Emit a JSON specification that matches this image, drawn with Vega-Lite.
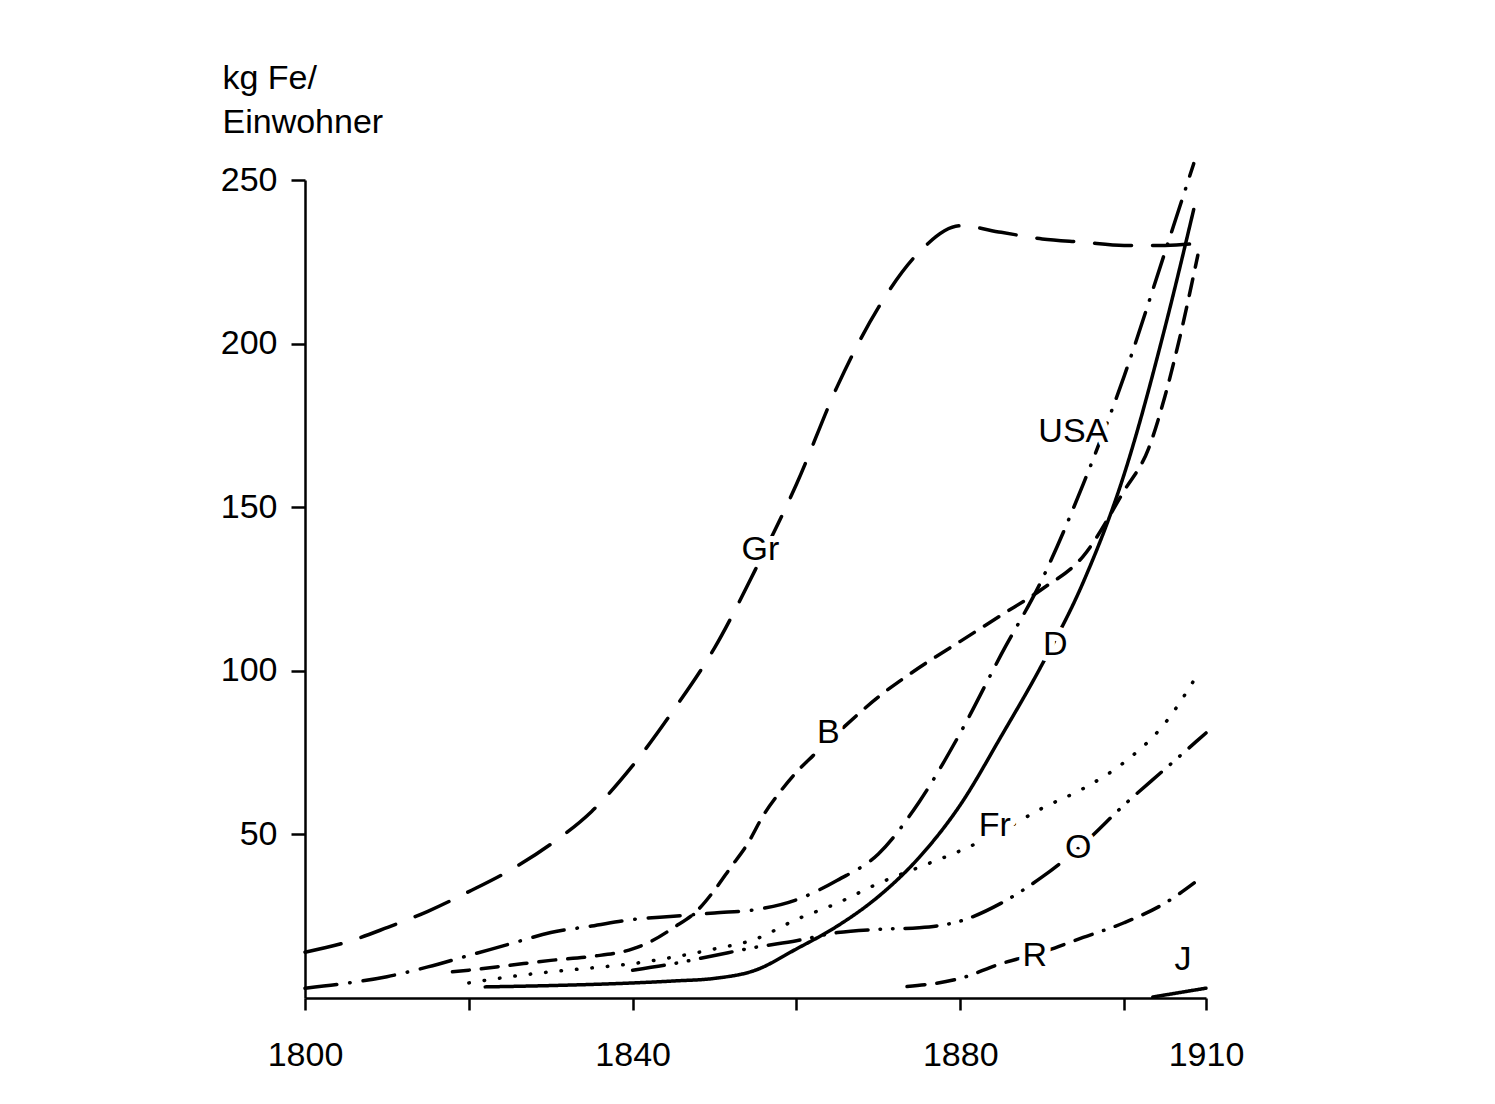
{
  "$schema": "https://vega.github.io/schema/vega-lite/v6.json",
  "width": 901,
  "height": 818,
  "autosize": "none",
  "padding": {"left": 305, "top": 180, "right": 289, "bottom": 106},
  "background": "white",
  "config": {
    "view": {"stroke": null},
    "font": "Liberation Sans",
    "axis": {
      "grid": false,
      "domainColor": "black",
      "domainWidth": 2.5,
      "tickColor": "black",
      "tickWidth": 2.5,
      "labelColor": "black",
      "labelFont": "Liberation Sans",
      "labelFontSize": 34,
      "titleFont": "Liberation Sans",
      "titleColor": "black"
    }
  },
  "datasets": {
    "lines": [
      {"series": "Gr", "year": 1800, "value": 14}, {"series": "Gr", "year": 1805, "value": 17}, {"series": "Gr", "year": 1810, "value": 21.5}, {"series": "Gr", "year": 1815, "value": 26.5}, {"series": "Gr", "year": 1820, "value": 32.5}, {"series": "Gr", "year": 1825, "value": 39}, {"series": "Gr", "year": 1830, "value": 47}, {"series": "Gr", "year": 1835, "value": 57}, {"series": "Gr", "year": 1840, "value": 71}, {"series": "Gr", "year": 1845, "value": 88}, {"series": "Gr", "year": 1850, "value": 107}, {"series": "Gr", "year": 1855, "value": 131}, {"series": "Gr", "year": 1860, "value": 157}, {"series": "Gr", "year": 1865, "value": 187}, {"series": "Gr", "year": 1870, "value": 211}, {"series": "Gr", "year": 1875, "value": 228}, {"series": "Gr", "year": 1880, "value": 236}, {"series": "Gr", "year": 1885, "value": 234}, {"series": "Gr", "year": 1890, "value": 232}, {"series": "Gr", "year": 1895, "value": 231}, {"series": "Gr", "year": 1900, "value": 230}, {"series": "Gr", "year": 1905, "value": 230}, {"series": "Gr", "year": 1910, "value": 231},
      {"series": "USA", "year": 1800, "value": 3}, {"series": "USA", "year": 1805, "value": 4.5}, {"series": "USA", "year": 1810, "value": 6.5}, {"series": "USA", "year": 1815, "value": 9.5}, {"series": "USA", "year": 1820, "value": 13}, {"series": "USA", "year": 1825, "value": 16.5}, {"series": "USA", "year": 1830, "value": 20}, {"series": "USA", "year": 1835, "value": 22}, {"series": "USA", "year": 1840, "value": 24}, {"series": "USA", "year": 1845, "value": 25}, {"series": "USA", "year": 1850, "value": 26}, {"series": "USA", "year": 1855, "value": 27}, {"series": "USA", "year": 1860, "value": 30}, {"series": "USA", "year": 1865, "value": 36}, {"series": "USA", "year": 1870, "value": 44}, {"series": "USA", "year": 1875, "value": 60}, {"series": "USA", "year": 1880, "value": 81}, {"series": "USA", "year": 1885, "value": 105}, {"series": "USA", "year": 1890, "value": 128}, {"series": "USA", "year": 1895, "value": 157}, {"series": "USA", "year": 1900, "value": 190}, {"series": "USA", "year": 1905, "value": 228}, {"series": "USA", "year": 1908.5, "value": 255},
      {"series": "D", "year": 1822, "value": 3.4}, {"series": "D", "year": 1830, "value": 3.8}, {"series": "D", "year": 1840, "value": 4.6}, {"series": "D", "year": 1845, "value": 5.2}, {"series": "D", "year": 1850, "value": 6}, {"series": "D", "year": 1855, "value": 8.5}, {"series": "D", "year": 1860, "value": 15}, {"series": "D", "year": 1865, "value": 22}, {"series": "D", "year": 1870, "value": 31}, {"series": "D", "year": 1875, "value": 43}, {"series": "D", "year": 1880, "value": 59}, {"series": "D", "year": 1885, "value": 80}, {"series": "D", "year": 1890, "value": 102}, {"series": "D", "year": 1895, "value": 127}, {"series": "D", "year": 1900, "value": 160}, {"series": "D", "year": 1905, "value": 205}, {"series": "D", "year": 1908.5, "value": 241},
      {"series": "B", "year": 1818, "value": 8}, {"series": "B", "year": 1820, "value": 8.5}, {"series": "B", "year": 1825, "value": 10}, {"series": "B", "year": 1830, "value": 11.5}, {"series": "B", "year": 1835, "value": 12.7}, {"series": "B", "year": 1840, "value": 15}, {"series": "B", "year": 1842, "value": 17}, {"series": "B", "year": 1845, "value": 21.5}, {"series": "B", "year": 1848, "value": 27}, {"series": "B", "year": 1850, "value": 33}, {"series": "B", "year": 1852, "value": 40}, {"series": "B", "year": 1854, "value": 47}, {"series": "B", "year": 1856, "value": 56}, {"series": "B", "year": 1858, "value": 63}, {"series": "B", "year": 1860, "value": 69}, {"series": "B", "year": 1862, "value": 74}, {"series": "B", "year": 1865, "value": 81}, {"series": "B", "year": 1870, "value": 92}, {"series": "B", "year": 1875, "value": 101}, {"series": "B", "year": 1880, "value": 109}, {"series": "B", "year": 1885, "value": 117}, {"series": "B", "year": 1890, "value": 125}, {"series": "B", "year": 1895, "value": 135}, {"series": "B", "year": 1900, "value": 155}, {"series": "B", "year": 1903, "value": 168}, {"series": "B", "year": 1905, "value": 184}, {"series": "B", "year": 1907, "value": 204}, {"series": "B", "year": 1909, "value": 227},
      {"series": "Fr", "year": 1820, "value": 4.6}, {"series": "Fr", "year": 1825, "value": 6.5}, {"series": "Fr", "year": 1830, "value": 8}, {"series": "Fr", "year": 1835, "value": 9.2}, {"series": "Fr", "year": 1840, "value": 10.5}, {"series": "Fr", "year": 1845, "value": 12.5}, {"series": "Fr", "year": 1850, "value": 15}, {"series": "Fr", "year": 1855, "value": 18}, {"series": "Fr", "year": 1860, "value": 24}, {"series": "Fr", "year": 1865, "value": 29}, {"series": "Fr", "year": 1870, "value": 35}, {"series": "Fr", "year": 1875, "value": 40}, {"series": "Fr", "year": 1880, "value": 45}, {"series": "Fr", "year": 1885, "value": 51}, {"series": "Fr", "year": 1890, "value": 58}, {"series": "Fr", "year": 1895, "value": 64}, {"series": "Fr", "year": 1900, "value": 72}, {"series": "Fr", "year": 1905, "value": 84}, {"series": "Fr", "year": 1909, "value": 99},
      {"series": "O", "year": 1840, "value": 8.5}, {"series": "O", "year": 1845, "value": 10.5}, {"series": "O", "year": 1850, "value": 13}, {"series": "O", "year": 1855, "value": 15.5}, {"series": "O", "year": 1860, "value": 17.5}, {"series": "O", "year": 1865, "value": 20}, {"series": "O", "year": 1870, "value": 21}, {"series": "O", "year": 1875, "value": 21.5}, {"series": "O", "year": 1880, "value": 23.5}, {"series": "O", "year": 1885, "value": 29}, {"series": "O", "year": 1890, "value": 37}, {"series": "O", "year": 1895, "value": 47}, {"series": "O", "year": 1900, "value": 59}, {"series": "O", "year": 1905, "value": 70}, {"series": "O", "year": 1910, "value": 81},
      {"series": "R", "year": 1873.5, "value": 3.5}, {"series": "R", "year": 1880, "value": 6}, {"series": "R", "year": 1885, "value": 10.5}, {"series": "R", "year": 1890, "value": 14}, {"series": "R", "year": 1895, "value": 18.5}, {"series": "R", "year": 1900, "value": 23}, {"series": "R", "year": 1905, "value": 29}, {"series": "R", "year": 1909, "value": 36},
      {"series": "J", "year": 1903.5, "value": 0.3}, {"series": "J", "year": 1910, "value": 3}
    ],
    "labels": [
      {"label": "Gr", "year": 1855.6, "value": 137},
      {"label": "USA", "year": 1893.8, "value": 173},
      {"label": "D", "year": 1891.6, "value": 108},
      {"label": "B", "year": 1863.9, "value": 81},
      {"label": "Fr", "year": 1884.2, "value": 52.6},
      {"label": "O", "year": 1894.4, "value": 45.8},
      {"label": "R", "year": 1889.1, "value": 12.8},
      {"label": "J", "year": 1907.2, "value": 11.6}
    ]
  },
  "layer": [
    {
      "data": {"name": "lines"},
      "mark": {"type": "line", "interpolate": "monotone", "strokeCap": "round", "color": "black"},
      "encoding": {
        "x": {
          "field": "year", "type": "quantitative",
          "scale": {"domain": [1800, 1910], "nice": false, "zero": false},
          "axis": {
            "title": null,
            "values": [1800, 1820, 1840, 1860, 1880, 1900, 1910],
            "format": "d",
            "labelExpr": "indexof([1800, 1840, 1880, 1910], datum.value) >= 0 ? datum.label : ''",
            "tickSize": 12,
            "labelPadding": 28,
            "labelFlush": false,
            "labelOverlap": false
          }
        },
        "y": {
          "field": "value", "type": "quantitative",
          "scale": {"domain": [0, 250], "nice": false},
          "axis": {
            "values": [50, 100, 150, 200, 250],
            "tickSize": 14,
            "labelPadding": 14,
            "labelFlush": false,
            "labelOverlap": false,
            "title": ["kg Fe/", "Einwohner"],
            "titleAngle": 0,
            "titleAlign": "left",
            "titleBaseline": "alphabetic",
            "titleX": -83,
            "titleY": -92,
            "titleFontSize": 34,
            "titleFontWeight": "normal",
            "titleLineHeight": 44
          }
        },
        "strokeDash": {
          "field": "series", "type": "nominal",
          "scale": {
            "domain": ["Gr", "USA", "D", "B", "Fr", "O", "R", "J"],
            "range": [[37, 21], [32, 13, 0.5, 13], [1, 0], [17, 12], [0.5, 15], [32, 12, 0.5, 12, 0.5, 12], [18, 12, 18, 12, 0.5, 12], [1, 0]]
          },
          "legend": null
        },
        "strokeWidth": {
          "field": "series", "type": "nominal",
          "scale": {
            "domain": ["Gr", "USA", "D", "B", "Fr", "O", "R", "J"],
            "range": [3.5, 3.5, 3.5, 3.5, 4.5, 3.5, 3.5, 4]
          },
          "legend": null
        }
      }
    },
    {
      "data": {"name": "labels"},
      "mark": {"type": "text", "fontSize": 34, "fill": "white", "stroke": "white", "strokeWidth": 12, "strokeJoin": "round", "align": "center", "baseline": "middle"},
      "encoding": {
        "x": {"field": "year", "type": "quantitative"},
        "y": {"field": "value", "type": "quantitative"},
        "text": {"field": "label", "type": "nominal"}
      }
    },
    {
      "data": {"name": "labels"},
      "mark": {"type": "text", "fontSize": 34, "fill": "black", "align": "center", "baseline": "middle"},
      "encoding": {
        "x": {"field": "year", "type": "quantitative"},
        "y": {"field": "value", "type": "quantitative"},
        "text": {"field": "label", "type": "nominal"}
      }
    }
  ]
}
